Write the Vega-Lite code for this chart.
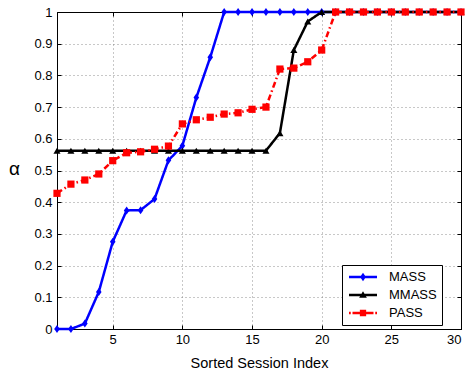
{
  "$schema": "https://vega.github.io/schema/vega-lite/v6.json",
  "width": 404,
  "height": 317,
  "autosize": {"type": "none"},
  "padding": {"left": 57, "top": 12, "right": 4, "bottom": 45},
  "background": "white",
  "config": {
    "font": "Liberation Sans",
    "view": {"stroke": "black", "strokeWidth": 1},
    "axis": {
      "domainColor": "black",
      "tickColor": "black",
      "labelColor": "black",
      "titleColor": "black",
      "labelFont": "Liberation Sans",
      "titleFont": "Liberation Sans",
      "labelFontSize": 13,
      "titleFontWeight": "normal",
      "gridColor": "#777777",
      "gridDash": [1, 3],
      "gridOpacity": 0.8,
      "tickSize": -4
    }
  },
  "data": {
    "values": [
      {"series": "MASS", "x": 1, "y": 0}, {"series": "MASS", "x": 2, "y": 0}, {"series": "MASS", "x": 3, "y": 0.017},
      {"series": "MASS", "x": 4, "y": 0.117}, {"series": "MASS", "x": 5, "y": 0.275}, {"series": "MASS", "x": 6, "y": 0.374},
      {"series": "MASS", "x": 7, "y": 0.375}, {"series": "MASS", "x": 8, "y": 0.41}, {"series": "MASS", "x": 9, "y": 0.532},
      {"series": "MASS", "x": 10, "y": 0.578}, {"series": "MASS", "x": 11, "y": 0.73}, {"series": "MASS", "x": 12, "y": 0.857},
      {"series": "MASS", "x": 13, "y": 1}, {"series": "MASS", "x": 14, "y": 1}, {"series": "MASS", "x": 15, "y": 1},
      {"series": "MASS", "x": 16, "y": 1}, {"series": "MASS", "x": 17, "y": 1}, {"series": "MASS", "x": 18, "y": 1},
      {"series": "MASS", "x": 19, "y": 1}, {"series": "MASS", "x": 20, "y": 1}, {"series": "MASS", "x": 21, "y": 1},
      {"series": "MASS", "x": 22, "y": 1}, {"series": "MASS", "x": 23, "y": 1}, {"series": "MASS", "x": 24, "y": 1},
      {"series": "MASS", "x": 25, "y": 1}, {"series": "MASS", "x": 26, "y": 1}, {"series": "MASS", "x": 27, "y": 1},
      {"series": "MASS", "x": 28, "y": 1}, {"series": "MASS", "x": 29, "y": 1}, {"series": "MASS", "x": 30, "y": 1},
      {"series": "MMASS", "x": 1, "y": 0.5625}, {"series": "MMASS", "x": 2, "y": 0.5625}, {"series": "MMASS", "x": 3, "y": 0.5625},
      {"series": "MMASS", "x": 4, "y": 0.5625}, {"series": "MMASS", "x": 5, "y": 0.5625}, {"series": "MMASS", "x": 6, "y": 0.5625},
      {"series": "MMASS", "x": 7, "y": 0.5625}, {"series": "MMASS", "x": 8, "y": 0.5625}, {"series": "MMASS", "x": 9, "y": 0.5625},
      {"series": "MMASS", "x": 10, "y": 0.5625}, {"series": "MMASS", "x": 11, "y": 0.5625}, {"series": "MMASS", "x": 12, "y": 0.5625},
      {"series": "MMASS", "x": 13, "y": 0.5625}, {"series": "MMASS", "x": 14, "y": 0.5625}, {"series": "MMASS", "x": 15, "y": 0.5625},
      {"series": "MMASS", "x": 16, "y": 0.5625}, {"series": "MMASS", "x": 17, "y": 0.618}, {"series": "MMASS", "x": 18, "y": 0.88},
      {"series": "MMASS", "x": 19, "y": 0.97}, {"series": "MMASS", "x": 20, "y": 1}, {"series": "MMASS", "x": 21, "y": 1},
      {"series": "MMASS", "x": 22, "y": 1}, {"series": "MMASS", "x": 23, "y": 1}, {"series": "MMASS", "x": 24, "y": 1},
      {"series": "MMASS", "x": 25, "y": 1}, {"series": "MMASS", "x": 26, "y": 1}, {"series": "MMASS", "x": 27, "y": 1},
      {"series": "MMASS", "x": 28, "y": 1}, {"series": "MMASS", "x": 29, "y": 1}, {"series": "MMASS", "x": 30, "y": 1},
      {"series": "PASS", "x": 1, "y": 0.428}, {"series": "PASS", "x": 2, "y": 0.457}, {"series": "PASS", "x": 3, "y": 0.47},
      {"series": "PASS", "x": 4, "y": 0.489}, {"series": "PASS", "x": 5, "y": 0.531}, {"series": "PASS", "x": 6, "y": 0.556},
      {"series": "PASS", "x": 7, "y": 0.559}, {"series": "PASS", "x": 8, "y": 0.567}, {"series": "PASS", "x": 9, "y": 0.577},
      {"series": "PASS", "x": 10, "y": 0.647}, {"series": "PASS", "x": 11, "y": 0.66}, {"series": "PASS", "x": 12, "y": 0.668},
      {"series": "PASS", "x": 13, "y": 0.678}, {"series": "PASS", "x": 14, "y": 0.682}, {"series": "PASS", "x": 15, "y": 0.693},
      {"series": "PASS", "x": 16, "y": 0.7}, {"series": "PASS", "x": 17, "y": 0.82}, {"series": "PASS", "x": 18, "y": 0.823},
      {"series": "PASS", "x": 19, "y": 0.843}, {"series": "PASS", "x": 20, "y": 0.88}, {"series": "PASS", "x": 21, "y": 1},
      {"series": "PASS", "x": 22, "y": 1}, {"series": "PASS", "x": 23, "y": 1}, {"series": "PASS", "x": 24, "y": 1},
      {"series": "PASS", "x": 25, "y": 1}, {"series": "PASS", "x": 26, "y": 1}, {"series": "PASS", "x": 27, "y": 1},
      {"series": "PASS", "x": 28, "y": 1}, {"series": "PASS", "x": 29, "y": 1}, {"series": "PASS", "x": 30, "y": 1}
    ]
  },
  "layer": [
    {
      "mark": {"type": "line", "strokeWidth": 2.5, "clip": false},
      "encoding": {
        "x": {
          "field": "x", "type": "quantitative",
          "scale": {"domain": [1, 30], "nice": false},
          "axis": {"values": [5, 10, 15, 20, 25, 30], "title": "Sorted Session Index", "titleFontSize": 14.5, "labelPadding": 8, "titlePadding": 10, "grid": true}
        },
        "y": {
          "field": "y", "type": "quantitative",
          "scale": {"domain": [0, 1], "nice": false},
          "axis": {
            "values": [0, 0.1, 0.2, 0.3, 0.4, 0.5, 0.6, 0.7, 0.8, 0.9, 1],
            "format": ".1~f", "title": "α", "titleAngle": 0, "titleFontSize": 19,
            "titleX": -43, "titleY": 156, "titleBaseline": "middle", "titleAlign": "center",
            "labelPadding": 9, "grid": true
          }
        },
        "color": {
          "field": "series", "type": "nominal",
          "scale": {"domain": ["MASS", "MMASS", "PASS"], "range": ["#0000ff", "#000000", "#ff0000"]},
          "legend": {
            "orient": "none", "legendX": 285, "legendY": 253, "title": null, "direction": "vertical",
            "strokeColor": "black", "fillColor": "white", "padding": 5,
            "symbolSize": 196, "symbolStrokeWidth": 0, "symbolOffset": 9, "labelOffset": 19,
            "labelFontSize": 13, "labelFont": "Liberation Sans", "labelColor": "black", "rowPadding": 4,
            "labelExpr": "datum.label + '\u2002'",
            "symbolType": "square",
            "encode": {
              "symbols": {
                "update": {
                  "shape": {"signal": "datum.value === 'MASS' ? 'M-2,-0.18L2,-0.18L2,0.18L-2,0.18ZM0,-0.6L0.42,0L0,0.6L-0.42,0Z' : datum.value === 'MMASS' ? 'M-2,-0.18L2,-0.18L2,0.18L-2,0.18ZM0,-0.55L0.55,0.4L-0.55,0.4Z' : 'M-2,-0.18L-1.75,-0.18L-1.75,0.18L-2,0.18ZM-1.5,-0.18L1.5,-0.18L1.5,0.18L-1.5,0.18ZM1.75,-0.18L2,-0.18L2,0.18L1.75,0.18ZM-0.45,-0.45L0.45,-0.45L0.45,0.45L-0.45,0.45Z'"},
                  "fill": {"signal": "datum.value === 'MASS' ? '#0000ff' : datum.value === 'MMASS' ? '#000000' : '#ff0000'"},
                  "strokeWidth": {"value": 0},
                  "opacity": {"value": 1},
                  "fillOpacity": {"value": 1}
                }
              }
            }
          }
        },
        "strokeDash": {
          "field": "series", "type": "nominal",
          "scale": {"domain": ["MASS", "MMASS", "PASS"], "range": [[1, 0], [1, 0], [6, 3, 1.5, 3]]},
          "legend": null
        }
      }
    },
    {
      "transform": [{"filter": "datum.series === 'MASS'"}],
      "mark": {"type": "point", "filled": true, "opacity": 1, "clip": false, "shape": "M0,-1L0.7,0L0,1L-0.7,0Z", "size": 64, "fill": "#0000ff"},
      "encoding": {
        "x": {
          "field": "x", "type": "quantitative",
          "axis": {"orient": "top", "labels": false, "title": null, "grid": false, "values": [5, 10, 15, 20, 25, 30]}
        },
        "y": {
          "field": "y", "type": "quantitative",
          "axis": {"orient": "right", "labels": false, "title": null, "grid": false, "values": [0, 0.1, 0.2, 0.3, 0.4, 0.5, 0.6, 0.7, 0.8, 0.9, 1]}
        }
      }
    },
    {
      "transform": [{"filter": "datum.series === 'MMASS'"}],
      "mark": {"type": "point", "filled": true, "opacity": 1, "clip": false, "shape": "triangle-up", "size": 50, "fill": "#000000"},
      "encoding": {
        "x": {"field": "x", "type": "quantitative", "axis": null},
        "y": {"field": "y", "type": "quantitative", "axis": null}
      }
    },
    {
      "transform": [{"filter": "datum.series === 'PASS'"}],
      "mark": {"type": "point", "filled": true, "opacity": 1, "clip": false, "shape": "square", "size": 52, "fill": "#ff0000"},
      "encoding": {
        "x": {"field": "x", "type": "quantitative", "axis": null},
        "y": {"field": "y", "type": "quantitative", "axis": null}
      }
    }
  ],
  "resolve": {"axis": {"x": "independent", "y": "independent"}}
}
